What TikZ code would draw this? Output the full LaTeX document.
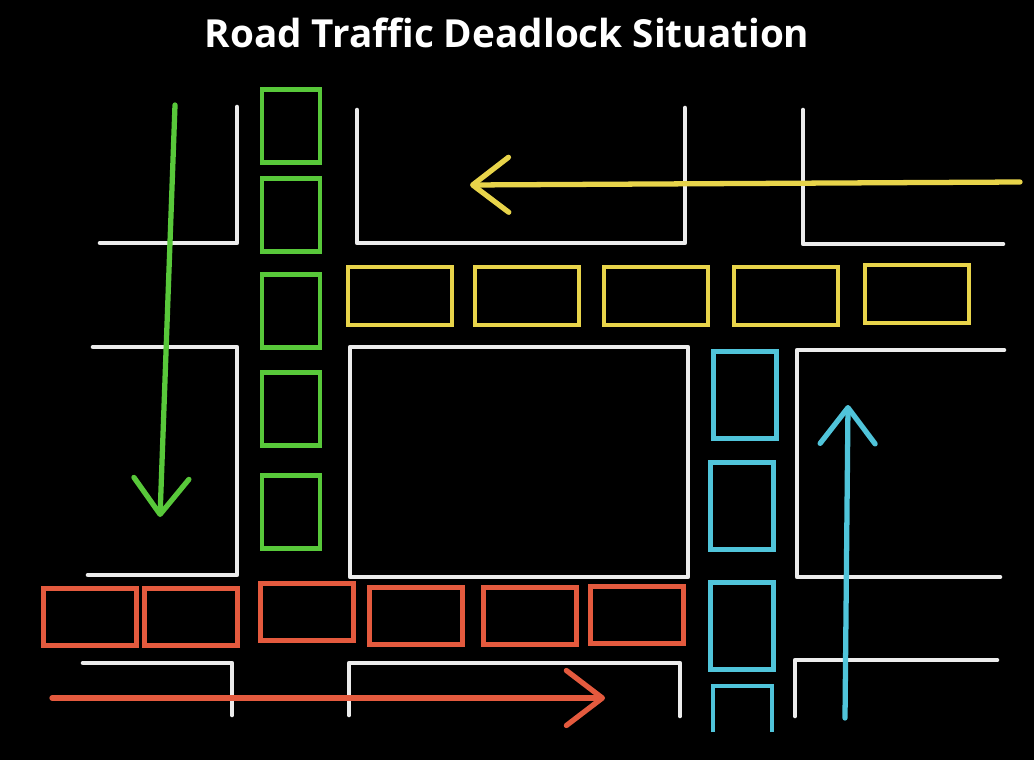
\documentclass[tikz,border=0pt]{standalone}
\usepackage{fontspec}
\newfontfamily\titlefont{Open Sans}
\usetikzlibrary{arrows.meta,positioning}
\definecolor{roadwhite}{RGB}{236,236,236}
\definecolor{cargreen}{RGB}{88,200,58}
\definecolor{caryellow}{RGB}{232,212,74}
\definecolor{carcyan}{RGB}{80,196,218}
\definecolor{carred}{RGB}{228,90,62}

\begin{document}
\begin{tikzpicture}[x=0.02cm,y=-0.02cm,
	every node/.style={inner sep=0pt,outer sep=0pt},
	road/.style={draw=roadwhite,line width=2.6pt,line cap=round,line join=round},
	car/.style={draw,line width=2.6pt,rectangle},
	gcar/.style={car,draw=cargreen,minimum width=1.16cm,minimum height=1.46cm},
	ycar/.style={car,draw=caryellow,minimum width=2.08cm,minimum height=1.16cm},
	ccar/.style={car,draw=carcyan,minimum width=1.26cm,minimum height=1.74cm},
	rcar/.style={car,draw=carred,minimum width=1.86cm,minimum height=1.14cm},
	flow/.style={line width=3pt,line cap=round,-{Straight Barb[length=0.72cm,width=1.1cm,round]}}]
	\fill[black] (0,0) rectangle (1034,760);
	\useasboundingbox (0,0) rectangle (1034,760);

	\node[text=white,font=\titlefont\bfseries\fontsize{22}{26}\selectfont] (title) at (507,33) {Road Traffic Deadlock Situation};

	% roads
	\draw[road] (100,243) -- (237,243) -- (237,107);
	\draw[road] (357,110) -- (357,243) -- (685,243) -- (685,108);
	\draw[road] (803,110) -- (803,244) -- (1003,244);
	\draw[road] (93,347) -- (237,347) -- (237,575) -- (88,575);
	\draw[road] (350,347) rectangle (688,577);
	\draw[road] (1004,350) -- (797,350) -- (797,577) -- (1000,577);
	\draw[road] (83,663) -- (232,663) -- (232,715);
	\draw[road] (349,715) -- (349,663) -- (680,663) -- (680,716);
	\draw[road] (795,716) -- (795,660) -- (997,660);

	% green queue
	\node[gcar] (g1) at (291,126) {};
	\node[gcar] (g2) at (291,215) {};
	\node[gcar] (g3) at (291,311) {};
	\node[gcar] (g4) at (291,409) {};
	\node[gcar] (g5) at (291,512) {};

	% yellow queue
	\node[ycar] (y1) at (400,296) {};
	\node[ycar] (y2) at (527,296) {};
	\node[ycar] (y3) at (656,296) {};
	\node[ycar] (y4) at (786,296) {};
	\node[ycar] (y5) at (917,294) {};

	% cyan queue
	\node[ccar] (c1) at (745,395) {};
	\node[ccar] (c2) at (742,506) {};
	\node[ccar] (c3) at (742,626) {};
	\draw[car,draw=carcyan] (713,732) -- (713,686) -- (772,686) -- (772,732);

	% red queue
	\node[rcar] (r1) at (90,617) {};
	\node[rcar] (r2) at (191,617) {};
	\node[rcar] (r3) at (307,612) {};
	\node[rcar] (r4) at (416,616) {};
	\node[rcar] (r5) at (530,616) {};
	\node[rcar] (r6) at (637,615) {};

	% directions
	\coordinate (gS) at (175,105);
	\coordinate (gE) at (160,517);
	\coordinate (yS) at (1020,182);
	\coordinate (yE) at (470,185);
	\coordinate (cS) at (845,718);
	\coordinate (cE) at (848,405);
	\coordinate (rS) at (52,698);
	\coordinate (rE) at (605,698);
	\draw[flow,draw=cargreen] (gS) -- (gE);
	\draw[flow,draw=caryellow] (yS) -- (yE);
	\draw[flow,draw=carcyan] (cS) -- (cE);
	\draw[flow,draw=carred] (rS) -- (rE);
\end{tikzpicture}
\end{document}
